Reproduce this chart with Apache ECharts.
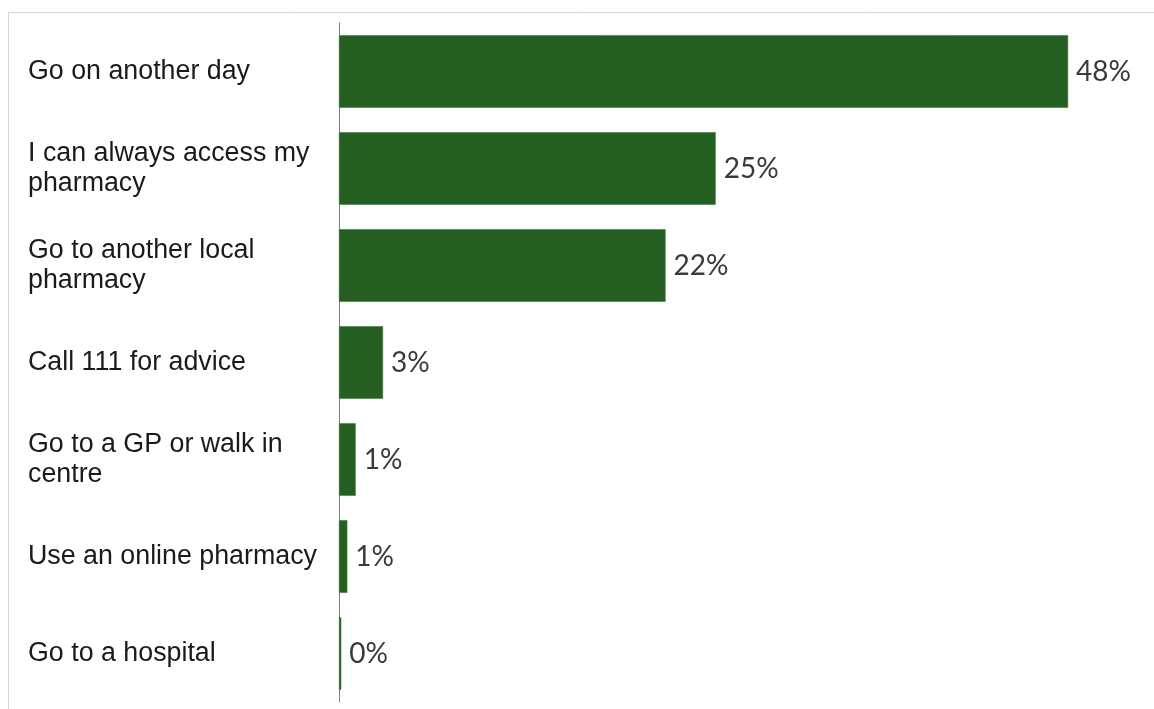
<!DOCTYPE html>
<html>
<head>
<meta charset="utf-8">
<title>Pharmacy access</title>
<script src="https://cdn.jsdelivr.net/npm/echarts@6/dist/echarts.min.js"></script>
<style>
  html, body { margin: 0; padding: 0; background: #ffffff; }
  #chart { width: 1154px; height: 709px; }
</style>
</head>
<body>
<div id="chart"></div>
<script>
// Survey responses: what people would do if their pharmacy were closed
const categories = [
  'Go on another day',
  'I can always access my pharmacy',
  'Go to another local pharmacy',
  'Call 111 for advice',
  'Go to a GP or walk in centre',
  'Use an online pharmacy',
  'Go to a hospital'
];
// Share of respondents (%), labels show the rounded value
const shares = [48, 24.8, 21.5, 2.9, 1.1, 0.55, 0.15];
const axisMax = 50;

const chart = echarts.init(document.getElementById('chart'), null, { renderer: 'canvas' });

chart.setOption({
  animation: false,
  backgroundColor: '#ffffff',
  graphic: [{
    type: 'rect',
    silent: true,
    shape: { x: 8.5, y: 12.5, width: 1300, height: 900 },
    style: { fill: 'none', stroke: '#d4d4d4', lineWidth: 1 }
  }],
  grid: { left: 339, right: 1154 - 339 - 15.19 * axisMax, top: 23, bottom: 7, containLabel: false },
  xAxis: {
    type: 'value',
    min: 0,
    max: axisMax,
    show: false
  },
  yAxis: {
    type: 'category',
    data: categories,
    inverse: true,
    axisLine: { show: true, lineStyle: { color: '#7f7f7f', width: 1 } },
    axisTick: { show: false },
    splitLine: { show: false },
    axisLabel: {
      align: 'left',
      margin: 311,
      width: 302,
      overflow: 'break',
      lineHeight: 30,
      fontFamily: '"Liberation Sans", Arial, sans-serif',
      fontSize: 26.8,
      color: '#1a1a1a'
    }
  },
  series: [{
    type: 'bar',
    data: shares,
    barCategoryGap: '25%',
    itemStyle: { color: '#245e20', borderColor: '#3f7a3a', borderWidth: 0.6 },
    label: {
      show: true,
      position: 'right',
      distance: 8,
      fontFamily: 'Lato, "Noto Sans", sans-serif',
      fontSize: 28,
      color: '#3a3a3a',
      formatter: p => Math.round(p.value) + '%'
    }
  }]
});
</script>
</body>
</html>
